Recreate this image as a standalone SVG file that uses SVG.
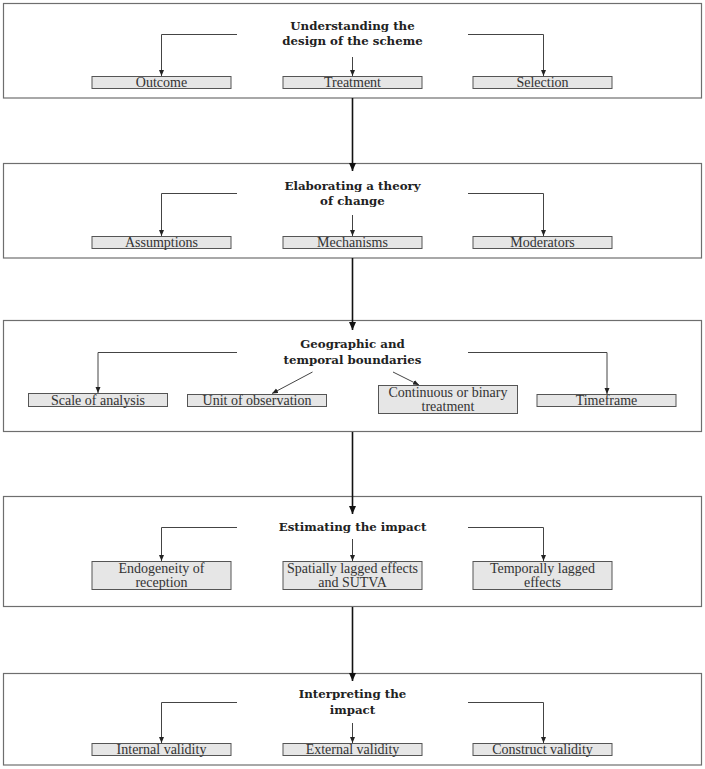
<svg xmlns="http://www.w3.org/2000/svg" width="705" height="769" viewBox="0 0 705 769">
<style>
.stage{fill:#fff;stroke:#6e6e6e;stroke-width:1.2}
.child{fill:#e6e6e6;stroke:#555;stroke-width:1}
.title{font-family:"DejaVu Serif","Liberation Serif",serif;font-weight:bold;font-size:11.8px;fill:#222;text-anchor:middle}
.lbl{font-family:"Liberation Serif","Times New Roman",serif;font-size:14px;fill:#333;text-anchor:middle}
.c{fill:none;stroke:#444;stroke-width:1}
.main{fill:none;stroke:#111;stroke-width:1.6}
</style>
<defs>
<marker id="ah" markerUnits="userSpaceOnUse" markerWidth="6" markerHeight="6" refX="6" refY="2.5" orient="auto"><path d="M0,0 L6,2.5 L0,5 z" fill="#222"/></marker>
<marker id="ahm" markerUnits="userSpaceOnUse" markerWidth="9" markerHeight="8" refX="8" refY="3.5" orient="auto"><path d="M0,0 L8,3.5 L0,7 z" fill="#111"/></marker>
</defs>
<rect x="0" y="0" width="705" height="769" fill="#fff"/>

<g id="stage1">
<rect class="stage" x="3.5" y="3.5" width="698" height="94.5"/>
<text class="title" x="352.5" y="30">Understanding the</text>
<text class="title" x="352.5" y="45">design of the scheme</text>
</g>
<g id="outcome"><rect class="child" x="92" y="76.5" width="139" height="12"/><text class="lbl" x="161.5" y="87">Outcome</text></g>
<g id="treatment"><rect class="child" x="283" y="76.5" width="139" height="12"/><text class="lbl" x="352.5" y="87">Treatment</text></g>
<g id="selection"><rect class="child" x="473" y="76.5" width="139" height="12"/><text class="lbl" x="542.5" y="87">Selection</text></g>

<g id="stage2">
<rect class="stage" x="3.5" y="163.5" width="698" height="94.5"/>
<text class="title" x="352.5" y="190">Elaborating a theory</text>
<text class="title" x="352.5" y="205">of change</text>
</g>
<g id="assumptions"><rect class="child" x="92" y="236.5" width="139" height="12"/><text class="lbl" x="161.5" y="247">Assumptions</text></g>
<g id="mechanisms"><rect class="child" x="283" y="236.5" width="139" height="12"/><text class="lbl" x="352.5" y="247">Mechanisms</text></g>
<g id="moderators"><rect class="child" x="473" y="236.5" width="139" height="12"/><text class="lbl" x="542.5" y="247">Moderators</text></g>

<g id="stage3">
<rect class="stage" x="3.5" y="320.5" width="698" height="111"/>
<text class="title" x="352.5" y="348">Geographic and</text>
<text class="title" x="352.5" y="364">temporal boundaries</text>
</g>
<g id="scale"><rect class="child" x="28.5" y="393.5" width="139" height="13"/><text class="lbl" x="98" y="404.5">Scale of analysis</text></g>
<g id="unit"><rect class="child" x="187.5" y="394.5" width="139" height="12"/><text class="lbl" x="257" y="405">Unit of observation</text></g>
<g id="continuous"><rect class="child" x="378.5" y="385.5" width="139" height="28"/><text class="lbl" x="448" y="396.5">Continuous or binary</text><text class="lbl" x="448" y="410.5">treatment</text></g>
<g id="timeframe"><rect class="child" x="537" y="394.5" width="139" height="12"/><text class="lbl" x="606.5" y="405">Timeframe</text></g>

<g id="stage4">
<rect class="stage" x="3.5" y="496.5" width="698" height="110"/>
<text class="title" x="352.5" y="531">Estimating the impact</text>
</g>
<g id="endogeneity"><rect class="child" x="92" y="561.5" width="139" height="28"/><text class="lbl" x="161.5" y="572.5">Endogeneity of</text><text class="lbl" x="161.5" y="586.5">reception</text></g>
<g id="spatial"><rect class="child" x="283" y="561.5" width="139" height="28"/><text class="lbl" x="352.5" y="572.5">Spatially lagged effects</text><text class="lbl" x="352.5" y="586.5">and SUTVA</text></g>
<g id="temporal"><rect class="child" x="473" y="561.5" width="139" height="28"/><text class="lbl" x="542.5" y="572.5">Temporally lagged</text><text class="lbl" x="542.5" y="586.5">effects</text></g>

<g id="stage5">
<rect class="stage" x="3.5" y="673.5" width="698" height="91.5"/>
<text class="title" x="352.5" y="698">Interpreting the</text>
<text class="title" x="352.5" y="714">impact</text>
</g>
<g id="internal"><rect class="child" x="92" y="743.5" width="139" height="12"/><text class="lbl" x="161.5" y="754">Internal validity</text></g>
<g id="external"><rect class="child" x="283" y="743.5" width="139" height="12"/><text class="lbl" x="352.5" y="754">External validity</text></g>
<g id="construct"><rect class="child" x="473" y="743.5" width="139" height="12"/><text class="lbl" x="542.5" y="754">Construct validity</text></g>

<g id="connectors">
<path class="c" d="M237,34.5 H161.5 V76" marker-end="url(#ah)"/>
<path class="c" d="M468,34.5 H543.5 V76" marker-end="url(#ah)"/>
<path class="c" d="M352.5,57 V76" marker-end="url(#ah)"/>

<path class="c" d="M237,193.5 H161.5 V236" marker-end="url(#ah)"/>
<path class="c" d="M468,193.5 H543.5 V236" marker-end="url(#ah)"/>
<path class="c" d="M352.5,215 V236" marker-end="url(#ah)"/>

<path class="c" d="M237,352.5 H98 V393" marker-end="url(#ah)"/>
<path class="c" d="M468,352.5 H607 V394" marker-end="url(#ah)"/>
<path class="c" d="M312.5,372 L272,393.5" marker-end="url(#ah)"/>
<path class="c" d="M393,372 L419,385" marker-end="url(#ah)"/>

<path class="c" d="M237,527.5 H161.5 V561" marker-end="url(#ah)"/>
<path class="c" d="M468,527.5 H543.5 V561" marker-end="url(#ah)"/>
<path class="c" d="M352.5,539 V561" marker-end="url(#ah)"/>

<path class="c" d="M237,702.5 H161.5 V743" marker-end="url(#ah)"/>
<path class="c" d="M468,702.5 H543.5 V743" marker-end="url(#ah)"/>
<path class="c" d="M352.5,723 V743" marker-end="url(#ah)"/>

<path class="main" d="M352.5,98 V171" marker-end="url(#ahm)"/>
<path class="main" d="M352.5,258 V330" marker-end="url(#ahm)"/>
<path class="main" d="M352.5,432 V514" marker-end="url(#ahm)"/>
<path class="main" d="M352.5,607 V681" marker-end="url(#ahm)"/>
</g>
</svg>
